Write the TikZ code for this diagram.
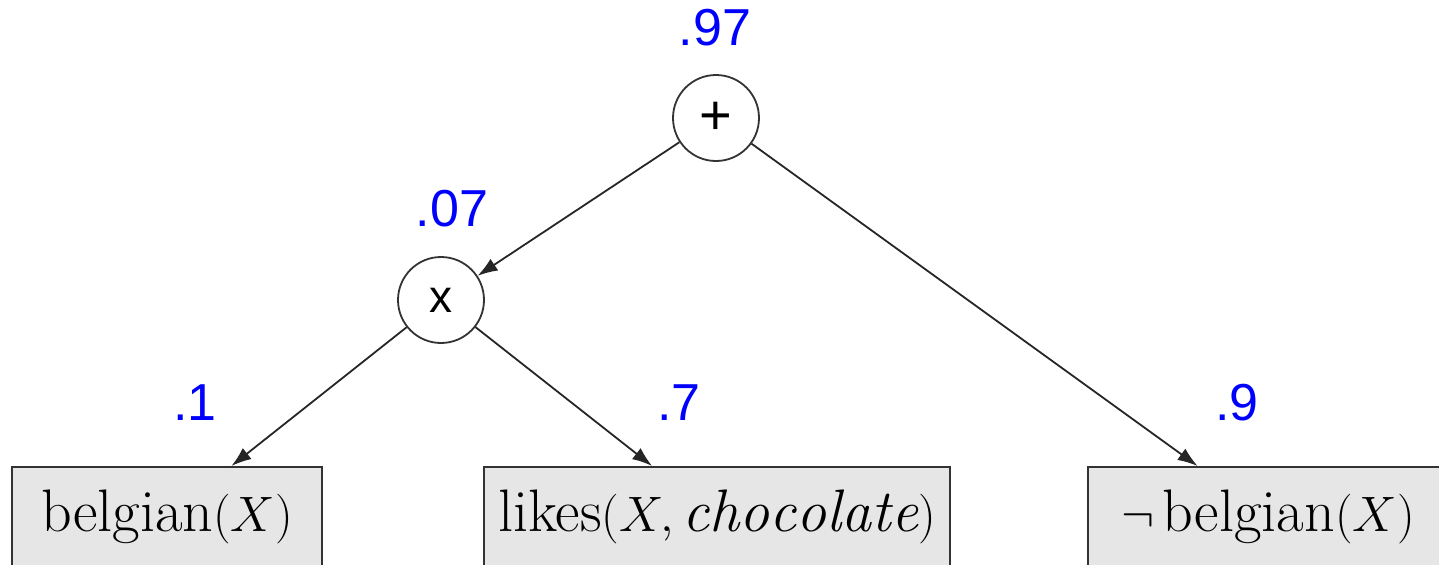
\documentclass[tikz,border=0pt]{standalone}
\usepackage{fontspec}
\usepackage{tikz}
\usetikzlibrary{arrows.meta,positioning}
\newfontfamily\probfont{Liberation Sans}
\definecolor{probblue}{HTML}{0000FF}
\definecolor{leafgray}{HTML}{E6E6E6}
\definecolor{rim}{HTML}{333333}
\begin{document}
\begin{tikzpicture}[x=0.5pt,y=0.5pt,>=Latex,
  op/.style={circle,draw=rim,fill=white,line width=0.9pt,minimum size=43pt,inner sep=0pt,font=\probfont\fontsize{23}{25}\selectfont},
  leaf/.style={draw=rim,fill=leafgray,line width=1pt,minimum height=50pt,inner sep=0pt,font=\fontsize{30}{33}\selectfont},
  prob/.style={font=\probfont\fontsize{26}{28}\selectfont,text=probblue},
  arrow/.style={-{Latex[length=10pt,width=7pt]},line width=0.9pt,color=black!85}]
  \useasboundingbox (0,0) rectangle (1439,564);
  \node[op,font=\probfont\fontsize{28}{30}\selectfont] (sum) at (716,446) {+};
  \node[op] (prod) at (441,264) {x};
  \node[leaf,minimum width=155pt] (bel) at (167,47) {belgian$(X)$};
  \node[leaf,minimum width=233pt] (likes) at (717,47) {likes$(X,\mathit{chocolate})$};
  \node[leaf,minimum width=180pt] (nbel) at (1268,47) {$\neg\,$belgian$(X)$};
  \draw[arrow] (sum)--(prod);
  \draw[arrow] (sum)--(nbel);
  \draw[arrow] (prod)--(bel);
  \draw[arrow] (prod)--(likes);
  \node[prob] (psum) at (715,536) {.97};
  \node[prob] (pprod) at (452,355) {.07};
  \node[prob] (pbel) at (195,161) {.1};
  \node[prob] (plikes) at (679,161) {.7};
  \node[prob] (pnbel) at (1237,161) {.9};
\end{tikzpicture}
\end{document}
